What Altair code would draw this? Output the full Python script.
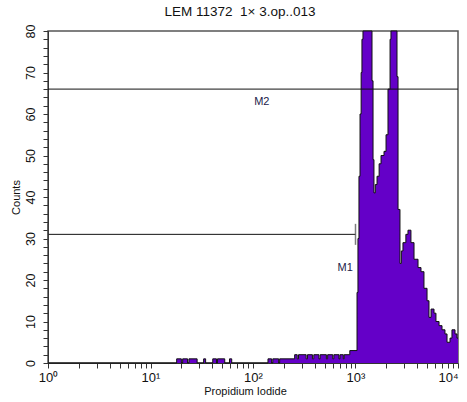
import altair as alt
import pandas as pd

chart_title = "LEM 11372\u00a0 1\u00d7 3.op..013"
x_title = "Propidium Iodide"
y_title = "Counts"

# histogram steps: left edge of each step (PI intensity) and its count
pi_intensity = [1, 18, 20, 20.6, 23, 23.7, 28.5, 33, 34.5, 40.5, 44, 45, 53, 59, 62,
                140, 152, 156, 178, 182, 255, 270, 278, 330, 340, 380, 392, 440, 452,
                520, 535, 600, 615, 690, 705, 760, 775, 880,
                1035, 1057, 1081, 1107, 1135, 1156, 1183, 1449, 1483, 1514, 1560, 1622,
                1700, 1774, 1897, 1986, 2075, 2173, 2218, 2541, 2600, 2716, 2800, 2904,
                3100, 3251, 3475, 3724, 4074, 4355, 4656, 4989, 5212, 5458, 5834, 6095,
                6531, 6982, 7464, 7816, 8356, 8730, 9354, 9772, 10000]
counts = [0, 1, 0, 1, 0, 1, 0, 1, 0, 1, 0, 1, 0, 1, 0,
          1, 0, 1, 0, 1, 2, 1, 2, 1, 2, 1, 2, 1, 2,
          1, 2, 1, 2, 1, 2, 1, 2, 3,
          17, 30, 45, 60, 70, 78, 130, 68, 49, 41, 43, 45,
          48, 50, 51, 55, 66, 78, 110, 69, 37, 24, 27, 29,
          31, 32, 29, 25, 23, 22, 18, 15, 11, 13, 12, 10,
          9, 8, 7, 5, 6, 8, 7, 6, 6]

decade_values = [1, 10, 100, 1000, 10000]
decade_labels = ["10\u2070", "10\u00b9", "10\u00b2", "10\u00b3", "10\u2074"]
minor_values = [m * d for d in [1, 10, 100, 1000] for m in range(1, 10)] + [10000]
y_tick_values = list(range(0, 81, 2))

marker_names = ["M1", "M2"]
marker_start = [1, 1]
marker_end = [1000, 10000]
marker_level = [31, 66]
marker_label_x = [794, 122]
marker_label_y = [23, 63]

end_tick_x = [1, 1000]
end_tick_y = [31, 31]

PURPLE = "#6400C8"
FONT = "Liberation Sans"

hist_df = pd.DataFrame({"pi": pi_intensity, "count": counts})
marker_df = pd.DataFrame({"name": marker_names, "start": marker_start,
                          "end": marker_end, "level": marker_level,
                          "lx": marker_label_x, "ly": marker_label_y})
ends_df = pd.DataFrame({"x": end_tick_x, "y": end_tick_y})

xs = alt.Scale(type="log", domain=[1, 10000], nice=False)
ys = alt.Scale(domain=[0, 80], nice=False, clamp=True, zero=True)

x_label_expr = " : ".join(
    f"datum.value == {v} ? '{l}'" for v, l in zip(decade_values, decade_labels)
) + " : ''"

x_axis = alt.Axis(values=minor_values, labelExpr=x_label_expr, tickSize=5,
                  title=x_title, grid=False, labelOverlap=False, labelFlush=False,
                  labelAlign={"condition": {"test": "datum.value >= 10000", "value": "right"},
                              "value": "center"},
                  labelFontSize=13, labelPadding=3, titleFontSize=11,
                  titleFontWeight="normal", titlePadding=1, titleX=197)
y_axis = alt.Axis(values=y_tick_values,
                  labelExpr="datum.value % 10 == 0 ? format(datum.value, 'd') : ''",
                  tickSize=5, title=y_title, grid=False, labelOverlap=False,
                  labelFlush=False, labelAngle=270, labelAlign="center",
                  labelBaseline="bottom", labelFontSize=12.5, labelPadding=6,
                  titleFontSize=11, titleFontWeight="normal", titlePadding=3)

hist = alt.Chart(hist_df).mark_area(
    interpolate="step-after", color=PURPLE, opacity=1, fillOpacity=1,
    line={"color": "#111111", "strokeWidth": 1}
).encode(
    x=alt.X("pi:Q", scale=xs, axis=x_axis, title=x_title),
    y=alt.Y("count:Q", scale=ys, axis=y_axis, title=y_title),
)

lines = alt.Chart(marker_df).mark_rule(color="#111111", strokeWidth=1).encode(
    x=alt.X("start:Q", scale=xs, axis=x_axis, title=x_title), x2="end:Q",
    y=alt.Y("level:Q", scale=ys, axis=y_axis, title=y_title)
)

ends = alt.Chart(ends_df).mark_tick(orient="vertical", size=21, thickness=1.5,
                                    color="#444444").encode(
    x=alt.X("x:Q", scale=xs, axis=x_axis, title=x_title),
    y=alt.Y("y:Q", scale=ys, axis=y_axis, title=y_title)
)

labels = alt.Chart(marker_df).mark_text(font=FONT, fontSize=11, color="#22224a").encode(
    x=alt.X("lx:Q", scale=xs, axis=x_axis, title=x_title),
    y=alt.Y("ly:Q", scale=ys, axis=y_axis, title=y_title),
    text="name:N"
)

chart = alt.layer(hist, lines, ends, labels).properties(
    width=410, height=332,
    title=alt.TitleParams(chart_title, fontSize=13.5, fontWeight="normal", font=FONT,
                          dx=-13, offset=6, color="#111111"),
    autosize=alt.AutoSizeParams(type="none"),
    padding={"left": 48, "top": 31, "right": 9, "bottom": 39},
).configure_view(
    stroke="#555555", strokeWidth=1.5
).configure_axis(
    domainColor="#333333", tickColor="#333333", labelColor="#111111",
    titleColor="#111111", labelFont=FONT, titleFont=FONT
)

chart.save("out.html", embed_options={"renderer": "svg", "actions": False})
